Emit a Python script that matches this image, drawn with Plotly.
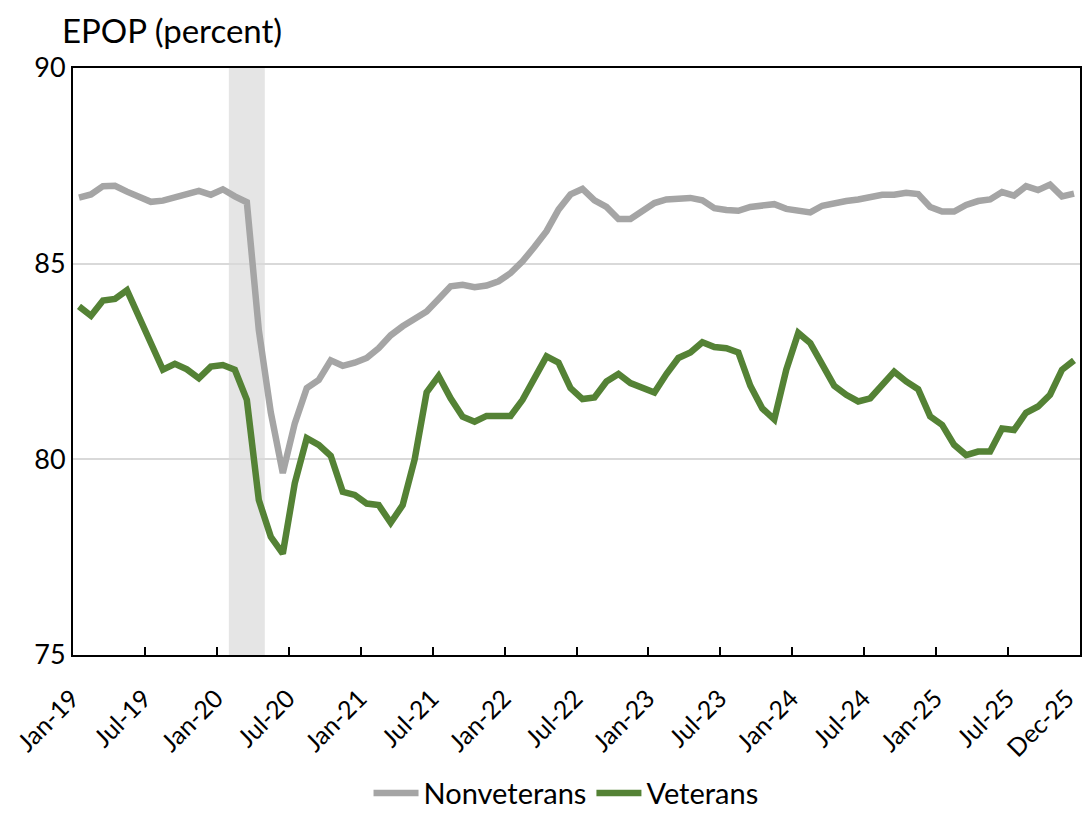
import numpy as np
import pandas as pd
import plotly.graph_objects as go

months = pd.date_range("2019-01-01", "2025-12-01", freq="MS").strftime("%b-%y").tolist()

nonveterans = [
    86.69, 86.77, 86.98, 86.99, 86.84, 86.69, 86.58, 86.61, 86.70, 86.78, 86.86, 86.76, 86.90, 86.72, 86.57,
    83.30, 81.20, 79.65, 80.92, 81.82, 82.03, 82.53, 82.39, 82.47, 82.59, 82.84, 83.17, 83.40, 83.58, 83.78,
    84.10, 84.42, 84.46, 84.40, 84.44, 84.55, 84.76, 85.06, 85.43, 85.83, 86.38, 86.77, 86.91, 86.62, 86.45,
    86.14, 86.14, 86.34, 86.55, 86.64, 86.66, 86.68, 86.62, 86.42, 86.37, 86.35, 86.45, 86.49, 86.52, 86.40,
    86.35, 86.31, 86.48, 86.55, 86.60, 86.64, 86.71, 86.76, 86.76, 86.81, 86.78, 86.45, 86.33, 86.33, 86.50,
    86.60, 86.64, 86.83, 86.74, 86.98, 86.88, 87.02, 86.72, 86.79,
]
veterans = [
    83.91, 83.67, 84.06, 84.10, 84.32, 83.63, 82.95, 82.29, 82.44, 82.30, 82.07, 82.37, 82.41, 82.29, 81.52,
    78.96, 78.02, 77.59, 79.39, 80.54, 80.37, 80.09, 79.17, 79.09, 78.87, 78.83, 78.38, 78.83, 80.00, 81.71,
    82.13, 81.56, 81.09, 80.96, 81.11, 81.13, 81.11, 81.52, 82.07, 82.63, 82.47, 81.82, 81.54, 81.58, 81.99,
    82.18, 81.95, 81.84, 81.71, 82.18, 82.59, 82.73, 82.99, 82.87, 82.84, 82.73, 81.88, 81.30, 81.02, 82.29,
    83.23, 82.97, 82.46, 81.88, 81.65, 81.48, 81.56, 81.90, 82.24, 81.99, 81.79, 81.10, 80.88, 80.37, 80.11,
    80.20, 80.20, 80.79, 80.75, 81.19, 81.35, 81.65, 82.29, 82.53,
]
tick_labels = ["Jan-19", "Jul-19", "Jan-20", "Jul-20", "Jan-21", "Jul-21", "Jan-22", "Jul-22",
               "Jan-23", "Jul-23", "Jan-24", "Jul-24", "Jan-25", "Jul-25", "Dec-25"]
recession = ["Feb-20", "Apr-20"]
y_ticks = [75, 80, 85, 90]

x = np.arange(len(months))
tick_pos = [months.index(t) for t in tick_labels]
minor_pos = [p - 0.5 for p in tick_pos[1:-1]]

FONT = "Lato, 'Open Sans', sans-serif"

fig = go.Figure()
fig.add_vrect(x0=months.index(recession[0]) - 0.5, x1=months.index(recession[1]) + 0.5,
              fillcolor="#E5E5E5", line_width=0, layer="below")
fig.add_trace(go.Scatter(x=x, y=nonveterans, mode="lines", name="Nonveterans",
                         line=dict(color="#A5A5A5", width=6.5)))
fig.add_trace(go.Scatter(x=x, y=veterans, mode="lines", name="Veterans",
                         line=dict(color="#548235", width=6.5)))

fig.update_layout(
    width=1082, height=816,
    margin=dict(l=73, r=2, t=68, b=161, autoexpand=False),
    paper_bgcolor="white", plot_bgcolor="white",
    font=dict(family=FONT, color="black", size=26),
    showlegend=True,
    legend=dict(orientation="h", x=0.4896, xanchor="center", y=-0.279, yanchor="bottom",
                font=dict(size=29), tracegroupgap=0, itemwidth=45),
    annotations=[dict(text="EPOP (percent)", xref="paper", yref="paper", x=-0.0129, y=1.0,
                      xanchor="left", yanchor="bottom", yshift=16, showarrow=False,
                      font=dict(size=33, family=FONT))],
)
fig.update_xaxes(
    range=[-0.5, len(months) - 0.5], tickmode="array", tickvals=tick_pos, ticktext=tick_labels,
    tickangle=-45, ticks="", showgrid=False, zeroline=False, ticklabeloverflow="allow",
    showline=True, linecolor="black", linewidth=2, mirror=True, automargin=False,
    tickfont=dict(size=25), ticklabelstandoff=17, ticklabelshift=-7,
    minor=dict(tickmode="array", tickvals=minor_pos, ticks="inside", ticklen=8,
               tickwidth=2, tickcolor="black", showgrid=False),
)
fig.update_yaxes(
    range=[75, 90], tickmode="array", tickvals=y_ticks, ticks="",
    showgrid=True, gridcolor="#D9D9D9", gridwidth=2, zeroline=False,
    showline=True, linecolor="black", linewidth=2, mirror=True, automargin=False,
    tickfont=dict(size=27), ticklabelstandoff=0,
)
fig.write_html("out.html", config={"displayModeBar": False},
               post_script="document.body.style.margin='0';document.body.style.overflow='hidden';")
